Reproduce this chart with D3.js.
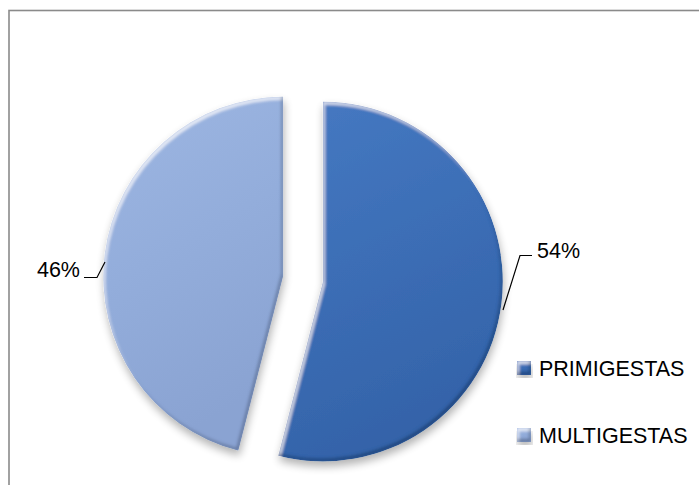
<!DOCTYPE html>
<html>
<head>
<meta charset="utf-8">
<script src="https://cdn.jsdelivr.net/npm/d3@7/dist/d3.min.js"></script>
<style>
  html, body { margin: 0; padding: 0; background: #fff; }
  svg { display: block; }
  text { font-family: "Liberation Sans", Arial, sans-serif; fill: #000; }
</style>
</head>
<body>
<svg id="chart" width="699" height="485"></svg>
<script>
// Chart data
const categories = ["PRIMIGESTAS", "MULTIGESTAS"];
const values = [54, 46];
const valueLabels = ["54%", "46%"];

const width = 699, height = 485;
const svg = d3.select("#chart");

// Colours for each slice (light, base, dark)
const palette = {
  PRIMIGESTAS: { light: "#4679C2", base: "#3C6EB6", dark: "#3463A9" },
  MULTIGESTAS: { light: "#9DB6E2", base: "#93ADDB", dark: "#8AA3D2" }
};

const defs = svg.append("defs");

// Bevel effect: highlight along upper-left edges, dark rim along lower-right, soft shadow
const bevel = defs.append("filter").attr("id", "bevel")
  .attr("x", "-10%").attr("y", "-10%").attr("width", "120%").attr("height", "125%");
// highlight rim
bevel.append("feOffset").attr("in", "SourceAlpha").attr("dx", 2).attr("dy", 3).attr("result", "offHi");
bevel.append("feComposite").attr("in", "SourceAlpha").attr("in2", "offHi").attr("operator", "out").attr("result", "rimHi");
bevel.append("feGaussianBlur").attr("in", "rimHi").attr("stdDeviation", 1.6).attr("result", "rimHiB");
bevel.append("feFlood").attr("flood-color", "#ffffff").attr("flood-opacity", 0.75).attr("result", "white");
bevel.append("feComposite").attr("in", "white").attr("in2", "rimHiB").attr("operator", "in").attr("result", "hi");
// dark rim
bevel.append("feOffset").attr("in", "SourceAlpha").attr("dx", -2).attr("dy", -3).attr("result", "offLo");
bevel.append("feComposite").attr("in", "SourceAlpha").attr("in2", "offLo").attr("operator", "out").attr("result", "rimLo");
bevel.append("feGaussianBlur").attr("in", "rimLo").attr("stdDeviation", 1.6).attr("result", "rimLoB");
bevel.append("feFlood").attr("flood-color", "#0a1e40").attr("flood-opacity", 0.55).attr("result", "dark");
bevel.append("feComposite").attr("in", "dark").attr("in2", "rimLoB").attr("operator", "in").attr("result", "lo");
// face = graphic + rims, clipped to shape
const faceMerge = bevel.append("feMerge").attr("result", "faceRaw");
faceMerge.append("feMergeNode").attr("in", "SourceGraphic");
faceMerge.append("feMergeNode").attr("in", "hi");
faceMerge.append("feMergeNode").attr("in", "lo");
bevel.append("feComposite").attr("in", "faceRaw").attr("in2", "SourceAlpha").attr("operator", "in").attr("result", "face");
// shadow
bevel.append("feGaussianBlur").attr("in", "SourceAlpha").attr("stdDeviation", 4).attr("result", "sblur");
bevel.append("feOffset").attr("in", "sblur").attr("dx", 1).attr("dy", 5).attr("result", "soff");
bevel.append("feComponentTransfer").attr("in", "soff").attr("result", "shadow")
  .append("feFuncA").attr("type", "linear").attr("slope", 0.3);
const merge = bevel.append("feMerge");
merge.append("feMergeNode").attr("in", "shadow");
merge.append("feMergeNode").attr("in", "face");

// Gradient fills for slices and legend keys
categories.forEach((c, i) => {
  const g = defs.append("linearGradient").attr("id", "grad" + i)
    .attr("x1", "0").attr("y1", "0").attr("x2", "0.3").attr("y2", "1");
  g.append("stop").attr("offset", "0%").attr("stop-color", palette[c].light);
  g.append("stop").attr("offset", "50%").attr("stop-color", palette[c].base);
  g.append("stop").attr("offset", "100%").attr("stop-color", palette[c].dark);
});

// Chart frame (extends past the right and bottom edges)
svg.append("rect")
  .attr("x", 9).attr("y", 10.5).attr("width", 800).attr("height", 600)
  .attr("fill", "none").attr("stroke", "#8a8a8a").attr("stroke-width", 1.6);

// Pie layout
const cx = 303, cy = 279, radius = 180, explode = 20;
const pie = d3.pie().sort(null).value(d => d.value).startAngle(0).endAngle(2 * Math.PI);
const arcs = pie(categories.map((c, i) => ({ name: c, value: values[i], label: valueLabels[i], idx: i })));
const arc = d3.arc().innerRadius(0).outerRadius(radius);

const pieG = svg.append("g").attr("transform", `translate(${cx},${cy})`);
pieG.selectAll("path.slice")
  .data(arcs)
  .join("path")
  .attr("class", "slice")
  .attr("transform", d => {
    const mid = (d.startAngle + d.endAngle) / 2;
    return `translate(${explode * Math.sin(mid)},${-explode * Math.cos(mid)})`;
  })
  .attr("d", arc)
  .attr("fill", d => `url(#grad${d.data.idx})`)
  .attr("filter", "url(#bevel)");

// Leader lines and value labels
const leaders = [
  { label: valueLabels[0], pts: [[503, 310], [520, 255.5], [532, 255.5]], tx: 537, ty: 258, anchor: "start" },
  { label: valueLabels[1], pts: [[105, 262], [97, 277.5], [84, 277.5]], tx: 80, ty: 277, anchor: "end" }
];
leaders.forEach(l => {
  svg.append("path")
    .attr("d", d3.line()(l.pts))
    .attr("fill", "none").attr("stroke", "#000").attr("stroke-width", 1.2);
  svg.append("text")
    .attr("x", l.tx).attr("y", l.ty)
    .attr("text-anchor", l.anchor)
    .attr("font-size", 21.5)
    .text(l.label);
});

// Legend
const legendY = d3.scalePoint().domain(categories).range([368, 435]);
const legend = svg.append("g");
const items = legend.selectAll("g").data(categories).join("g")
  .attr("transform", c => `translate(517,${legendY(c)})`);
items.append("rect")
  .attr("x", 0).attr("y", -7).attr("width", 14).attr("height", 14)
  .attr("fill", (c, i) => `url(#grad${i})`)
  .attr("filter", "url(#bevel)");
items.append("text")
  .attr("x", 22).attr("y", 8)
  .attr("font-size", 21.5)
  .text(c => c);
</script>
</body>
</html>
